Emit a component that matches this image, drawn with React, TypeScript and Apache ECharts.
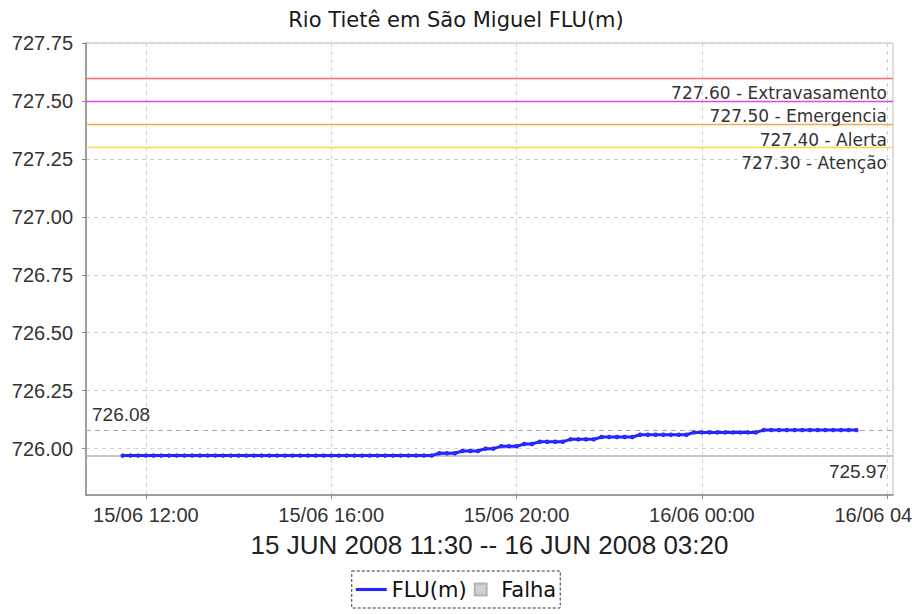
import React, { useEffect, useRef } from 'react';
import * as echarts from 'echarts';

const TITLE = 'Rio Tietê em São Miguel FLU(m)';
const X_AXIS_NAME = '15 JUN 2008 11:30 -- 16 JUN 2008 03:20';
const SERIES_NAME = 'FLU(m)';
const FAIL_NAME = 'Falha';

// 10-minute readings, 15/06 11:30 -> 16/06 03:20
const times = [
  '11:30', '11:40', '11:50',
  '12:00', '12:10', '12:20', '12:30', '12:40', '12:50',
  '13:00', '13:10', '13:20', '13:30', '13:40', '13:50',
  '14:00', '14:10', '14:20', '14:30', '14:40', '14:50',
  '15:00', '15:10', '15:20', '15:30', '15:40', '15:50',
  '16:00', '16:10', '16:20', '16:30', '16:40', '16:50',
  '17:00', '17:10', '17:20', '17:30', '17:40', '17:50',
  '18:00', '18:10', '18:20', '18:30', '18:40', '18:50',
  '19:00', '19:10', '19:20', '19:30', '19:40', '19:50',
  '20:00', '20:10', '20:20', '20:30', '20:40', '20:50',
  '21:00', '21:10', '21:20', '21:30', '21:40', '21:50',
  '22:00', '22:10', '22:20', '22:30', '22:40', '22:50',
  '23:00', '23:10', '23:20', '23:30', '23:40', '23:50',
  '00:00', '00:10', '00:20', '00:30', '00:40', '00:50',
  '01:00', '01:10', '01:20', '01:30', '01:40', '01:50',
  '02:00', '02:10', '02:20', '02:30', '02:40', '02:50',
  '03:00', '03:10', '03:20',
];

const levels = [
  725.97, 725.97, 725.97,
  725.97, 725.97, 725.97, 725.97, 725.97, 725.97,
  725.97, 725.97, 725.97, 725.97, 725.97, 725.97,
  725.97, 725.97, 725.97, 725.97, 725.97, 725.97,
  725.97, 725.97, 725.97, 725.97, 725.97, 725.97,
  725.97, 725.97, 725.97, 725.97, 725.97, 725.97,
  725.97, 725.97, 725.97, 725.97, 725.97, 725.97,
  725.97, 725.97, 725.98, 725.98, 725.98, 725.99,
  725.99, 725.99, 726.0, 726.0, 726.01, 726.01,
  726.01, 726.02, 726.02, 726.03, 726.03, 726.03,
  726.03, 726.04, 726.04, 726.04, 726.04, 726.05,
  726.05, 726.05, 726.05, 726.05, 726.06, 726.06,
  726.06, 726.06, 726.06, 726.06, 726.06, 726.07,
  726.07, 726.07, 726.07, 726.07, 726.07, 726.07,
  726.07, 726.07, 726.08, 726.08, 726.08, 726.08,
  726.08, 726.08, 726.08, 726.08, 726.08, 726.08,
  726.08, 726.08, 726.08,
];

const thresholdValues = [727.6, 727.5, 727.4, 727.3];
const thresholdNames = ['Extravasamento', 'Emergencia', 'Alerta', 'Atenção'];
const thresholdColors = ['#ff6a6a', '#e640e6', '#ffa64d', '#ffd84a'];

const yTicks = [726.0, 726.25, 726.5, 726.75, 727.0, 727.25, 727.5, 727.75];
const xTickHours = [12, 16, 20, 24, 28];
const Y_MIN = 725.8;
const Y_MAX = 727.75;

const FONT = 'Liberation Sans, Arial, sans-serif';
const FONT2 = 'DejaVu Sans, sans-serif';

function toHours(list: string[]): number[] {
  const out: number[] = [];
  let offset = 0;
  let prev = -1;
  for (const t of list) {
    const [h, m] = t.split(':').map(Number);
    let v = h + m / 60 + offset;
    if (v < prev) {
      offset += 24;
      v += 24;
    }
    prev = v;
    out.push(v);
  }
  return out;
}

function fmtHour(v: number): string {
  const day = v >= 24 ? '16/06' : '15/06';
  const h = Math.round(v) % 24;
  return `${day} ${String(h).padStart(2, '0')}:00`;
}

export default function App() {
  const ref = useRef<HTMLDivElement>(null);

  useEffect(() => {
    document.body.style.margin = '0';
    if (!ref.current) return;
    const chart = echarts.init(ref.current, null, { renderer: 'svg' });

    const hours = toHours(times);
    const span = hours[hours.length - 1] - hours[0];
    const xMin = hours[0] - span * 0.05;
    const xMax = hours[hours.length - 1] + span * 0.05;
    const data = hours.map((h, i) => [h, levels[i]]);

    const thresholdLines = thresholdValues.map((v, i) => ({
      yAxis: v,
      lineStyle: { color: thresholdColors[i], type: 'solid', width: 1.3, opacity: 1 },
      label: {
        show: true,
        position: 'insideEndBottom',
        distance: [6, 7],
        formatter: `${v.toFixed(2)} - ${thresholdNames[i]}`,
        color: '#333',
        fontSize: 17,
        fontFamily: FONT2,
      },
    }));

    chart.setOption({
      animation: false,
      backgroundColor: '#fff',
      title: {
        text: TITLE,
        left: 'center',
        top: 4,
        textStyle: { fontFamily: FONT2, fontSize: 21, fontWeight: 'normal', color: '#1a1a1a' },
      },
      grid: {
        left: 86,
        right: 19,
        top: 43,
        bottom: 119,
        show: true,
        outerBoundsMode: 'none',
        containLabel: false,
        borderColor: '#bcbcbc',
        borderWidth: 1,
        backgroundColor: '#fff',
      },
      legend: {
        data: [
          { name: SERIES_NAME, icon: 'path://M0,0h40v4h-40z' },
          { name: FAIL_NAME, icon: 'path://M0,0h10v10h-10z' },
        ],
        left: 'center',
        top: 571,
        itemWidth: 31,
        itemHeight: 12,
        itemGap: 7,
        padding: [8, 4, 8, 4],
        borderColor: '#333',
        borderWidth: 1,
        borderType: [3, 2],
        textStyle: { fontFamily: FONT2, fontSize: 21, color: '#111' },
      },
      xAxis: {
        type: 'value',
        min: xMin,
        max: xMax,
        name: X_AXIS_NAME,
        nameLocation: 'middle',
        nameGap: 37,
        nameTextStyle: { fontFamily: FONT, fontSize: 26, color: '#222' },
        axisLine: { show: true, lineStyle: { color: '#888', width: 1.5 } },
        axisTick: { show: true, length: 4, lineStyle: { color: '#888' }, customValues: xTickHours },
        axisLabel: {
          customValues: xTickHours,
          formatter: (v: number) => fmtHour(v),
          fontFamily: FONT,
          fontSize: 20,
          color: '#333',
          margin: 10,
          hideOverlap: false,
        },
        splitLine: { show: true, lineStyle: { color: '#d0d0d0', type: [4, 4] } },
      },
      yAxis: {
        type: 'value',
        min: Y_MIN,
        max: Y_MAX,
        axisLine: { show: true, lineStyle: { color: '#888', width: 1.5 } },
        axisTick: { show: true, length: 4, lineStyle: { color: '#888' }, customValues: yTicks },
        axisLabel: {
          customValues: yTicks,
          formatter: (v: number) => v.toFixed(2),
          fontFamily: FONT,
          fontSize: 20,
          color: '#333',
          margin: 13,
        },
        splitLine: { show: true, lineStyle: { color: '#d0d0d0', type: [4, 4] } },
      },
      series: [
        {
          name: SERIES_NAME,
          type: 'line',
          data,
          symbol: 'emptyCircle',
          symbolSize: 2.5,
          showSymbol: true,
          color: '#2424ff',
          lineStyle: { color: '#2424ff', width: 3 },
          itemStyle: { color: '#2424ff', borderWidth: 0.8 },
          z: 5,
          markLine: {
            silent: true,
            symbol: ['none', 'none'],
            animation: false,
            data: [
              ...thresholdLines,
              {
                type: 'max',
                lineStyle: { color: '#a8a8a8', type: [5, 4], width: 1.2 },
                label: {
                  show: true,
                  position: 'insideStartTop',
                  distance: [6, 6],
                  formatter: (p: any) => Number(p.value).toFixed(2),
                  color: '#333',
                  fontSize: 19,
                  fontFamily: FONT,
                },
              },
              {
                type: 'min',
                lineStyle: { color: '#b4b4b4', type: 'solid', width: 1.5 },
                label: {
                  show: true,
                  position: 'insideEndBottom',
                  distance: [6, 6],
                  formatter: (p: any) => Number(p.value).toFixed(2),
                  color: '#333',
                  fontSize: 19,
                  fontFamily: FONT,
                },
              },
            ],
          },
        },
        {
          name: FAIL_NAME,
          type: 'scatter',
          data: [],
          color: '#c4c4c4',
          itemStyle: { color: '#c4c4c4', borderColor: '#a8a8a8', borderWidth: 1 },
        },
      ],
    });

    return () => chart.dispose();
  }, []);

  return <div ref={ref} style={{ width: 912, height: 614 }} />;
}
